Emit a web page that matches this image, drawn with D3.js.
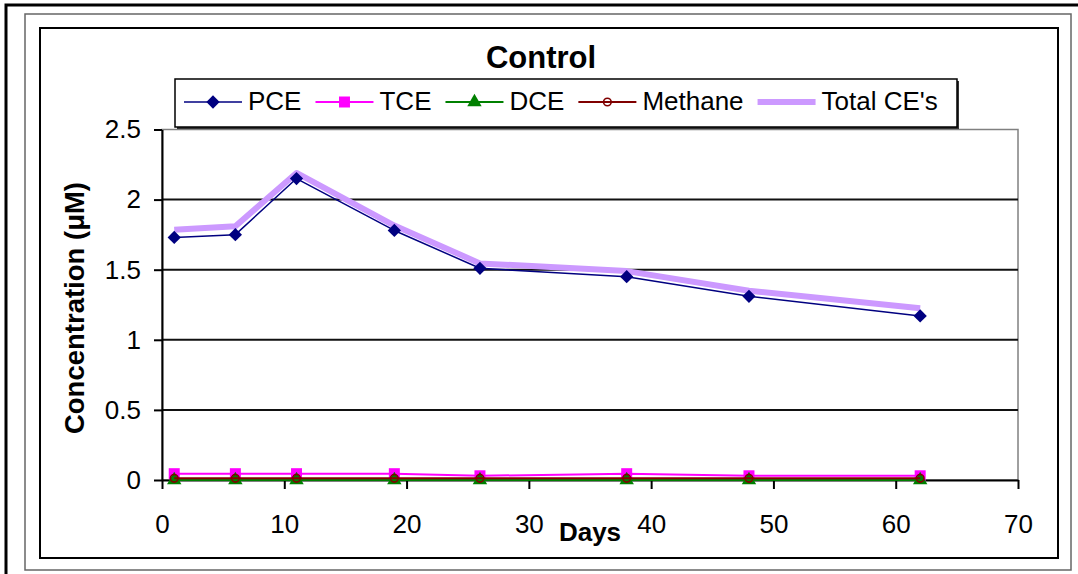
<!DOCTYPE html>
<html>
<head>
<meta charset="utf-8">
<script src="https://cdn.jsdelivr.net/npm/d3@7"></script>
<style>
  html, body { margin: 0; padding: 0; background: #fff; }
  svg { display: block; }
  text { font-family: "Liberation Sans", Arial, sans-serif; fill: #000; }
</style>
</head>
<body>
<svg id="chart" width="1078" height="574"></svg>
<script>
// ---- data ----
const days     = [1, 6, 11, 19, 26, 38, 48, 62];
const pce      = [1.73, 1.75, 2.15, 1.78, 1.51, 1.45, 1.31, 1.17];
const tce      = [0.045, 0.045, 0.045, 0.045, 0.03, 0.045, 0.03, 0.03];
const dce      = [0, 0, 0, 0, 0, 0, 0, 0];
const methane  = [0.012, 0.012, 0.012, 0.012, 0.012, 0.012, 0.012, 0.012];
const totalCE  = [1.785, 1.81, 2.19, 1.815, 1.545, 1.49, 1.35, 1.225];
const xTicks   = [0, 10, 20, 30, 40, 50, 60, 70];
const yTicks   = [0, 0.5, 1, 1.5, 2, 2.5];
const seriesNames = ["PCE", "TCE", "DCE", "Methane", "Total CE's"];
const titleText = "Control";
const xTitle = "Days";
const yTitle = "Concentration (\u03bcM)";

// ---- styles ----
const styles = {
  "PCE":        { color: "#000080", width: 1.5, marker: "diamond" },
  "TCE":        { color: "#FF00FF", width: 2,   marker: "square" },
  "DCE":        { color: "#008000", width: 2,   marker: "triangle" },
  "Methane":    { color: "#800000", width: 2,   marker: "circle" },
  "Total CE's": { color: "#CC99FF", width: 6,   marker: null }
};
const seriesValues = { "PCE": pce, "TCE": tce, "DCE": dce, "Methane": methane, "Total CE's": totalCE };

const svg = d3.select("#chart");
svg.append("rect").attr("width", 1078).attr("height", 574).attr("fill", "#fff");

// frames
svg.append("rect").attr("x", 6).attr("y", 5).attr("width", 1080).attr("height", 580)
  .attr("fill", "none").attr("stroke", "#000").attr("stroke-width", 3);
svg.append("rect").attr("x", 25).attr("y", 14).attr("width", 1046).attr("height", 556)
  .attr("fill", "none").attr("stroke", "#666").attr("stroke-width", 1.5);
svg.append("rect").attr("x", 40).attr("y", 28).attr("width", 1018).attr("height", 530)
  .attr("fill", "none").attr("stroke", "#000").attr("stroke-width", 2);

const x = d3.scaleLinear().domain([0, 70]).range([162, 1018]);
const y = d3.scaleLinear().domain([0, 2.5]).range([480, 129.5]);

// plot area border
svg.append("rect").attr("x", x(0)).attr("y", y(2.5))
  .attr("width", x(70) - x(0)).attr("height", y(0) - y(2.5))
  .attr("fill", "none").attr("stroke", "#808080").attr("stroke-width", 1.5);

// gridlines
svg.append("g").selectAll("line").data(yTicks.filter(d => d > 0 && d < 2.5)).join("line")
  .attr("x1", x(0)).attr("x2", x(70))
  .attr("y1", d => y(d)).attr("y2", d => y(d))
  .attr("stroke", "#111").attr("stroke-width", 2);

// axes
const yAxis = svg.append("g").attr("transform", `translate(${x(0)},0)`)
  .call(d3.axisLeft(y).tickValues(yTicks).tickSize(8).tickSizeOuter(0).tickPadding(13)
    .tickFormat(d => String(d)));
yAxis.selectAll("text").style("font-size", "26px").attr("fill", "#000");
yAxis.selectAll("line").attr("stroke", "#000").attr("stroke-width", 2);
yAxis.select(".domain").attr("stroke", "#000").attr("stroke-width", 2);

const xAxis = svg.append("g").attr("transform", `translate(0,${y(0)})`)
  .call(d3.axisBottom(x).tickValues(xTicks).tickSize(9).tickSizeOuter(0).tickPadding(26)
    .tickFormat(d => String(d)));
xAxis.selectAll("text").style("font-size", "26px").attr("fill", "#000");
xAxis.selectAll("line").attr("stroke", "#000").attr("stroke-width", 2);
xAxis.select(".domain").attr("stroke", "#000").attr("stroke-width", 2);

// marker drawing
function drawMarker(g, type, color, cx, cy) {
  if (type === "diamond") {
    g.append("path").attr("d", d3.symbol(d3.symbolSquare, 88)())
      .attr("transform", `translate(${cx},${cy}) rotate(45)`).attr("fill", color);
  } else if (type === "square") {
    g.append("path").attr("d", d3.symbol(d3.symbolSquare, 121)())
      .attr("transform", `translate(${cx},${cy})`).attr("fill", color);
  } else if (type === "triangle") {
    g.append("path").attr("d", d3.symbol(d3.symbolTriangle, 90)())
      .attr("transform", `translate(${cx},${cy})`).attr("fill", color);
  } else if (type === "circle") {
    g.append("circle").attr("cx", cx).attr("cy", cy).attr("r", 3.8)
      .attr("fill", "none").attr("stroke", color).attr("stroke-width", 1.6);
  }
}

// series lines: total first (beneath), then others
const drawOrder = ["Total CE's", "PCE", "TCE", "DCE", "Methane"];
const line = d3.line().x(d => x(d[0])).y(d => y(d[1]));
const plotG = svg.append("g");
drawOrder.forEach(name => {
  const st = styles[name];
  const pts = days.map((d, i) => [d, seriesValues[name][i]]);
  const g = plotG.append("g");
  g.append("path").attr("d", line(pts)).attr("fill", "none")
    .attr("stroke", st.color).attr("stroke-width", st.width)
    .attr("stroke-linejoin", "round");
  if (st.marker) pts.forEach(p => drawMarker(g, st.marker, st.color, x(p[0]), y(p[1])));
});

// title
svg.append("text").attr("x", 541).attr("y", 68).attr("text-anchor", "middle")
  .style("font-size", "31px").style("font-weight", "bold").text(titleText);

// axis titles
svg.append("text").attr("x", 590).attr("y", 541).attr("text-anchor", "middle")
  .style("font-size", "26px").style("font-weight", "bold").text(xTitle);
svg.append("text").attr("transform", "translate(84,308) rotate(-90)").attr("text-anchor", "middle")
  .style("font-size", "27.5px").style("font-weight", "bold").text(yTitle);

// legend
const lg = svg.append("g");
const lgX = 175, lgY = 79, lgW = 782, lgH = 48;
lg.append("rect").attr("x", lgX + 2).attr("y", lgY + 2).attr("width", lgW).attr("height", lgH).attr("fill", "#333");
lg.append("rect").attr("x", lgX).attr("y", lgY).attr("width", lgW).attr("height", lgH)
  .attr("fill", "#fff").attr("stroke", "#000").attr("stroke-width", 1.5);
let cursor = 184;
const lineY = 102, textY = 110;
seriesNames.forEach(name => {
  const st = styles[name];
  const x1 = cursor, x2 = cursor + 58;
  lg.append("line").attr("x1", x1).attr("x2", x2).attr("y1", lineY).attr("y2", lineY)
    .attr("stroke", st.color).attr("stroke-width", st.width);
  if (st.marker) drawMarker(lg, st.marker, st.color, (x1 + x2) / 2, lineY);
  const t = lg.append("text").attr("x", x2 + 6).attr("y", textY)
    .style("font-size", "26px").text(name);
  cursor = x2 + 6 + t.node().getComputedTextLength() + 14;
});
</script>
</body>
</html>
